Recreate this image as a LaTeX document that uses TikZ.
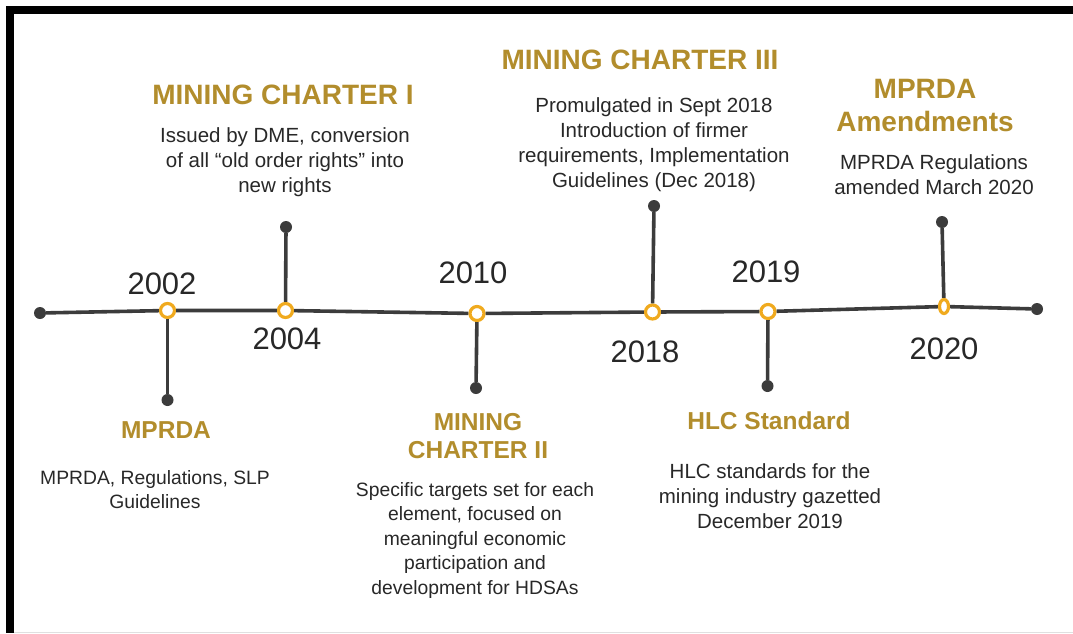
\documentclass[tikz,border=0pt]{standalone}
\usepackage{fontspec}
\setmainfont{Liberation Sans}
\usetikzlibrary{shapes.geometric}
\definecolor{gold}{RGB}{178,141,44}
\definecolor{ring}{RGB}{240,170,30}
\definecolor{axis}{RGB}{60,60,60}
\definecolor{txt}{RGB}{40,40,40}
\tikzset{
  ringnode/.style={circle, draw=ring, line width=3.2pt, fill=white, minimum size=14pt, inner sep=0pt},
  endnode/.style={circle, fill=axis, minimum size=12pt, inner sep=0pt},
  axisline/.style={draw=axis, line width=3.6pt},
  yearlbl/.style={text=txt, font=\fontsize{31}{34}\selectfont, inner sep=0pt},
  titlelbl/.style={text=gold, font=\fontsize{28}{32}\selectfont\bfseries, align=center, inner sep=0pt},
  lowtitle/.style={titlelbl, font=\fontsize{24.5}{28}\selectfont\bfseries},
  bodylbl/.style={text=txt, font=\fontsize{20.5}{25.2}\selectfont, align=center, inner sep=0pt},
  smallbody/.style={bodylbl, font=\fontsize{19.3}{24.6}\selectfont}
}
\begin{document}
\begin{tikzpicture}[x=1pt,y=-1pt]
\useasboundingbox (0,0) rectangle (1073,633);
\fill[white] (0,0) rectangle (1073,633);
% frame
\fill[black] (6,6) rectangle (1073,14);
\fill[black] (6,6) rectangle (14,633);
\draw[black!12, line width=1pt] (14,632) -- (1073,632);

% timeline markers
\node[endnode] (s) at (40,313) {};
\node[endnode] (e) at (1037,309) {};
\node[ringnode] (r02) at (167.5,310.5) {};
\node[ringnode] (r04) at (285.5,310.5) {};
\node[ringnode] (r10) at (477,313.5) {};
\node[ringnode] (r18) at (652.5,312) {};
\node[ringnode] (r19) at (768,311.5) {};
\node[ellipse, draw=ring, line width=3.2pt, fill=white, minimum width=9pt, minimum height=14pt, inner sep=0pt] (r20) at (944,306.5) {};

% stem end dots
\node[endnode] (d02) at (167.5,400) {};
\node[endnode] (d04) at (286,227) {};
\node[endnode] (d10) at (476,388) {};
\node[endnode] (d18) at (654,206) {};
\node[endnode] (d19) at (767.5,386) {};
\node[endnode] (d20) at (942,222) {};

% axis and stems
\draw[axisline] (s) -- (r02) -- (r04) -- (r10) -- (r18) -- (r19) -- (r20) -- (e);
\draw[axisline] (r02) -- (d02);
\draw[axisline] (r04) -- (d04);
\draw[axisline] (r10) -- (d10);
\draw[axisline] (r18) -- (d18);
\draw[axisline] (r19) -- (d19);
\draw[axisline] (r20) -- (d20);

% years
\node[yearlbl] (y02) at (162,284) {2002};
\node[yearlbl] (y04) at (287,339) {2004};
\node[yearlbl] (y10) at (473,273) {2010};
\node[yearlbl] (y18) at (645,352) {2018};
\node[yearlbl] (y19) at (766,272) {2019};
\node[yearlbl] (y20) at (944,349) {2020};

% Mining Charter I
\node[titlelbl] (t04) at (283,95) {MINING CHARTER I};
\node[bodylbl, anchor=north] (b04) at (285,127) {Issued by DME, conversion\\of all “old order rights” into\\new rights};

% Mining Charter III
\node[titlelbl] (t18) at (640,60) {MINING CHARTER III};
\node[bodylbl, anchor=north] (b18) at (654,97) {Promulgated in Sept 2018\\Introduction of firmer\\requirements, Implementation\\Guidelines (Dec 2018)};

% MPRDA Amendments
\node[titlelbl] (t20) at (925,105.5) {MPRDA\\[1pt]Amendments};
\node[bodylbl, anchor=north] (b20) at (934,154) {MPRDA Regulations\\amended March 2020};

% MPRDA
\node[lowtitle] (t02) at (166,430) {MPRDA};
\node[smallbody, anchor=north] (b02) at (155,470) {MPRDA, Regulations, SLP\\Guidelines};

% Mining Charter II
\node[lowtitle] (t10) at (478,436) {MINING\\[0pt]CHARTER II};
\node[smallbody, anchor=north] (b10) at (475,482) {Specific targets set for each\\element, focused on\\meaningful economic\\participation and\\development for HDSAs};

% HLC Standard
\node[lowtitle] (t19) at (769,421) {HLC Standard};
\node[bodylbl, anchor=north] (b19) at (770,463) {HLC standards for the\\mining industry gazetted\\December 2019};
\end{tikzpicture}
\end{document}
